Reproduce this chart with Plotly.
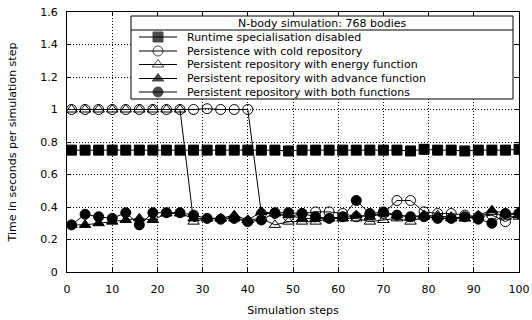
import plotly.graph_objects as go

steps = list(range(1, 101, 3))

disabled = [0.75, 0.75, 0.75, 0.75, 0.75, 0.75, 0.75, 0.75, 0.75, 0.75, 0.75, 0.75,
            0.75, 0.75, 0.75, 0.75, 0.745, 0.75, 0.75, 0.75, 0.75, 0.75, 0.75, 0.75,
            0.75, 0.745, 0.755, 0.75, 0.75, 0.745, 0.75, 0.75, 0.75, 0.755]
cold = [1.0, 1.0, 1.0, 1.0, 1.0, 1.0, 1.0, 1.0, 1.0, 1.0, 1.005, 1.0, 1.0, 1.0,
        0.36, 0.36, 0.34, 0.36, 0.37, 0.37, 0.36, 0.34, 0.35, 0.36, 0.44, 0.44,
        0.37, 0.36, 0.36, 0.35, 0.34, 0.35, 0.31, 0.36]
energy = [1.0, 1.0, 1.0, 1.0, 1.0, 1.0, 1.0, 1.0, 1.0,
          0.31, 0.33, 0.33, 0.33, 0.32, 0.33, 0.29, 0.31, 0.31, 0.31, 0.33, 0.33,
          0.33, 0.31, 0.32, 0.33, 0.31, 0.34, 0.35, 0.33, 0.33, 0.34, 0.37, 0.34, 0.34]
advance = [0.29, 0.29, 0.30, 0.31, 0.32, 0.33, 0.32, 0.36, 0.36, 0.33, 0.33, 0.33,
           0.35, 0.32, 0.37, 0.36, 0.35, 0.33, 0.33, 0.33, 0.33, 0.35, 0.34, 0.36,
           0.35, 0.34, 0.35, 0.34, 0.34, 0.33, 0.35, 0.38, 0.36, 0.35]
both = [0.29, 0.355, 0.34, 0.33, 0.365, 0.29, 0.365, 0.365, 0.365, 0.35, 0.33, 0.325,
        0.33, 0.31, 0.32, 0.365, 0.365, 0.36, 0.34, 0.33, 0.34, 0.44, 0.36, 0.37,
        0.35, 0.34, 0.34, 0.33, 0.33, 0.34, 0.325, 0.30, 0.36, 0.36]

names = ["Runtime specialisation disabled",
         "Persistence with cold repository",
         "Persistent repository with energy function",
         "Persistent repository with advance function",
         "Persistent repository with both functions"]
series = [disabled, cold, energy, advance, both]
symbols = ["square", "circle-open", "triangle-up-open", "triangle-up", "circle"]
sizes = [10, 10, 10, 10, 10]
legend_title = "N-body simulation: 768 bodies"

FONT = "DejaVu Sans"
W, H = 532, 320
PLOT_L, PLOT_T, PLOT_R, PLOT_B = 67, 12, 519, 272  # plot area in window pixels
X_RANGE = [0, 100]
Y_RANGE = [0, 1.6]


def px_x(px):
    return X_RANGE[0] + (px - PLOT_L) / (PLOT_R - PLOT_L) * (X_RANGE[1] - X_RANGE[0])


def px_y(py):
    return Y_RANGE[0] + (PLOT_B - py) / (PLOT_B - PLOT_T) * (Y_RANGE[1] - Y_RANGE[0])


fig = go.Figure()

for name, ys, sym, sz in zip(names, series, symbols, sizes):
    fig.add_trace(go.Scatter(
        x=steps, y=ys, mode="lines+markers", name=name, showlegend=False,
        line=dict(color="black", width=1),
        marker=dict(symbol=sym, size=sz, color="black",
                    line=dict(color="black", width=1)),
    ))

# manual legend box (pixel layout converted to axis coordinates)
box_l, box_r, box_t, box_b = 131, 513, 16, 99
sep_y = 30
row_y = [37, 51, 64.5, 78.5, 92]
samp_x0, samp_x1 = 139, 177
text_x = 185

for i, (sym, sz) in enumerate(zip(symbols, sizes)):
    xm = (samp_x0 + samp_x1) / 2
    fig.add_trace(go.Scatter(
        x=[px_x(samp_x0), px_x(xm), px_x(samp_x1)], y=[px_y(row_y[i])] * 3,
        mode="lines+markers", showlegend=False, hoverinfo="skip",
        line=dict(color="black", width=1),
        marker=dict(symbol=sym, size=[0, sz, 0], color="black",
                    line=dict(color="black", width=1)),
    ))
    fig.add_annotation(x=px_x(text_x), y=px_y(row_y[i]),
                       text=names[i], showarrow=False, xanchor="left",
                       yanchor="middle", font=dict(family=FONT, size=11, color="black"))

fig.add_annotation(x=px_x((box_l + box_r) / 2), y=px_y((box_t + sep_y) / 2 + 0.5),
                   text=legend_title, showarrow=False, xanchor="center",
                   yanchor="middle", font=dict(family=FONT, size=11, color="black"))
fig.add_shape(type="rect", x0=px_x(box_l), x1=px_x(box_r), y0=px_y(box_t), y1=px_y(box_b),
              xref="x", yref="y",
              line=dict(color="black", width=1), fillcolor="white", layer="between")
fig.add_shape(type="line", x0=px_x(box_l), x1=px_x(box_r), y0=px_y(sep_y), y1=px_y(sep_y),
              xref="x", yref="y",
              line=dict(color="black", width=1), layer="between")

axis_common = dict(
    showline=True, linecolor="black", linewidth=1, mirror="ticks",
    ticks="inside", ticklen=4, tickcolor="black",
    showgrid=True, gridcolor="black", griddash="1px,2px", gridwidth=1,
    zeroline=False, automargin=False, ticklabeloverflow="allow",
    tickfont=dict(family=FONT, size=11, color="black"),
)

fig.update_layout(
    width=W, height=H,
    margin=dict(l=PLOT_L, r=W - PLOT_R, t=PLOT_T, b=H - PLOT_B),
    paper_bgcolor="white", plot_bgcolor="white",
    font=dict(family=FONT, size=11, color="black"),
    xaxis=dict(range=X_RANGE, dtick=10, tick0=0, ticklabelstandoff=7,
               title=dict(text="Simulation steps", font=dict(family=FONT, size=11), standoff=11),
               **axis_common),
    yaxis=dict(range=Y_RANGE, dtick=0.2, tick0=0, ticklabelstandoff=6,
               title=dict(text="Time in seconds per simulation step",
                          font=dict(family=FONT, size=11), standoff=21),
               **axis_common),
    showlegend=False,
)

fig.write_html("out.html", post_script="document.body.style.margin='0';",
               config={"displayModeBar": False})
